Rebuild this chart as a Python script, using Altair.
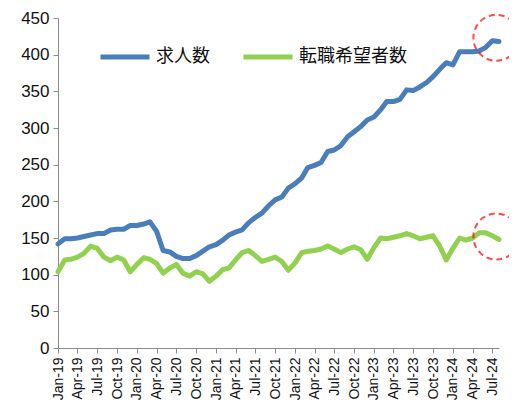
import altair as alt
import pandas as pd

series_names = ["求人数", "転職希望者数"]

jobs = [
    142, 149, 149, 150, 152, 154, 156, 156, 161, 162, 162, 167,
    167, 169, 172, 159, 133, 131, 125, 122, 122, 126, 132, 138,
    141, 147, 154, 158, 161, 171, 178, 184, 194, 202, 206, 218,
    224, 232, 246, 249, 253, 268, 270, 276, 288, 295, 302, 311,
    315, 325, 336, 336, 339, 352, 351, 356, 362, 370, 380, 389,
    386, 404, 404, 404, 405, 410, 419, 418,
]

seekers = [
    104, 120, 121, 124, 129, 139, 136, 124, 119, 124, 120, 104,
    114, 123, 121, 115, 102, 109, 114, 102, 98, 104, 101, 91,
    98, 107, 109, 120, 130, 133, 126, 118, 121, 124, 118, 106,
    116, 130, 132, 133, 135, 139, 135, 130, 135, 138, 134, 121,
    137, 150, 149, 151, 153, 156, 153, 149, 151, 153, 139, 120,
    136, 150, 147, 150, 157, 157, 153, 148,
]

months = pd.date_range("2019-01-01", periods=len(jobs), freq="MS").strftime("%Y-%m-%d").tolist()

# annotation circles (dashed red) around the latest values
annot_dates = ["2024-07-20", "2024-07-20"]
annot_values = [423, 152]

y_ticks = list(range(0, 451, 50))
tick_dates = pd.date_range("2019-01-01", "2024-07-01", freq="3MS")
tick_values = [alt.DateTime(year=d.year, month=d.month, date=1, utc=True) for d in tick_dates]

df = pd.DataFrame({
    "month": months * 2,
    "value": jobs + seekers,
    "series": [series_names[0]] * len(jobs) + [series_names[1]] * len(seekers),
})
annot = pd.DataFrame({"month": annot_dates, "value": annot_values})

x_scale = alt.Scale(
    type="utc",
    domain=[alt.DateTime(year=2019, month=1, date=1, utc=True),
            alt.DateTime(year=2024, month=8, date=1, utc=True)],
)
y_scale = alt.Scale(domain=[0, 450], nice=False)

x_axis = alt.Axis(values=tick_values, format="%b-%y", labelAngle=-90,
                  labelFontSize=14, labelColor="#111", grid=False,
                  domainColor="#8c8c8c", tickColor="#8c8c8c", tickSize=5,
                  labelFont="Liberation Sans", labelPadding=4, labelOverlap=False)
y_axis = alt.Axis(values=y_ticks, labelFontSize=17,
                  labelColor="#111", grid=False, domainColor="#8c8c8c",
                  tickColor="#8c8c8c", tickSize=5, labelFont="Liberation Sans",
                  labelPadding=4, labelOverlap=False)

lines = alt.Chart(df).mark_line(strokeWidth=5, strokeJoin="round", strokeCap="round").encode(
    x=alt.X("month:T", scale=x_scale, title=None, axis=x_axis),
    y=alt.Y("value:Q", scale=y_scale, title=None, axis=y_axis),
    color=alt.Color("series:N",
                    scale=alt.Scale(domain=series_names, range=["#4A7EBB", "#92D050"]),
                    sort=series_names,
                    legend=alt.Legend(title=None, orient="none", direction="horizontal",
                                      legendX=40, legendY=12, symbolType="stroke",
                                      symbolSize=2401, symbolStrokeWidth=5,
                                      labelFontSize=18, labelFont="Noto Sans CJK JP",
                                      labelColor="#111", labelOffset=4, columnPadding=23,
                                      padding=0)),
)

circles = alt.Chart(annot).mark_point(
    shape="circle", size=2116, color="#FF0000", strokeWidth=2, strokeDash=[6, 4], filled=False
).encode(
    x=alt.X("month:T", scale=x_scale, title=None, axis=x_axis),
    y=alt.Y("value:Q", scale=y_scale, title=None, axis=y_axis),
)

chart = alt.layer(lines, circles).properties(
    width=441, height=330,
    autosize=alt.AutoSizeParams(type="none"),
    padding={"left": 50, "top": 10, "right": 10, "bottom": 55},
).configure_view(stroke=None)

chart.save("out.html", embed_options={"renderer": "svg", "actions": False})
